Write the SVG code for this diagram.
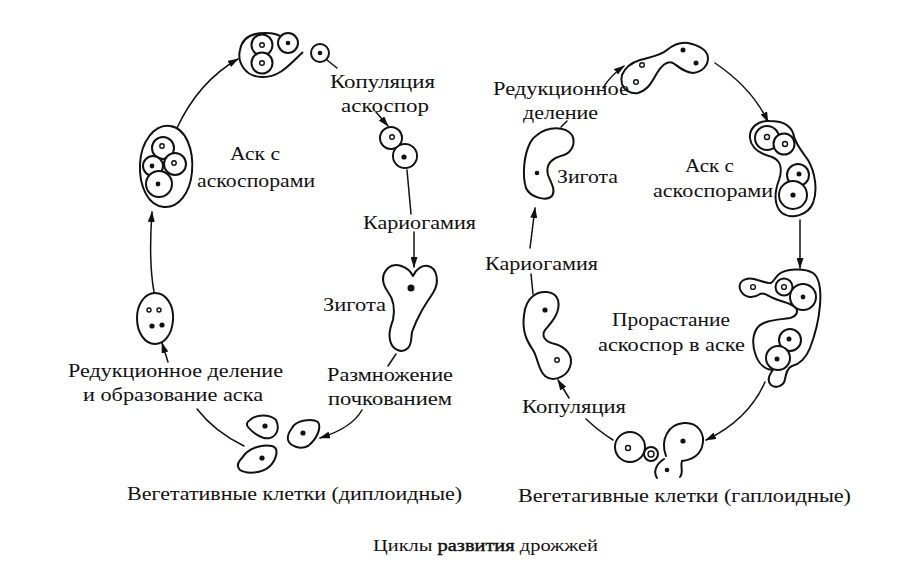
<svg xmlns="http://www.w3.org/2000/svg" width="910" height="583" viewBox="0 0 910 583">
<style>
.o{fill:#fff;stroke:#111;stroke-width:2;stroke-linejoin:round}
.w{fill:#fff;stroke:none}
.n{fill:#fff;stroke:#111;stroke-width:1.4}
.f{fill:#111;stroke:none}
.c{fill:none;stroke:#111;stroke-width:1.5;stroke-linecap:round}
.a{marker-end:url(#ah)}
text{font-family:"Liberation Serif","Times New Roman",serif;font-size:19px;fill:#111}
.cap{font-size:17.5px}
.b{stroke:#111;stroke-width:0.45}
</style>
<defs>
<marker id="ah" markerUnits="userSpaceOnUse" markerWidth="11" markerHeight="7" refX="10" refY="3.5" orient="auto">
<path d="M0,0 L11,3.5 L0,7 Z" fill="#111"/>
</marker>
</defs>
<rect width="910" height="583" fill="#fff"/>

<g id="connectors">
<path class="c a" d="M177,128 C190,100 210,75 238,59"/>
<path class="c" d="M327,60 L337,68"/>
<path class="c a" d="M376,112 L388,126"/>
<path class="c" d="M407,170 L411,214"/>
<path class="c a" d="M414,232 L414,267"/>
<path class="c" d="M396,354 L388,366"/>
<path class="c a" d="M362,410 Q352,428 320,438"/>
<path class="c" d="M197,409 Q215,432 244,446"/>
<path class="c a" d="M168,362 L162,343"/>
<path class="c a" d="M154,292 C150,270 150,240 152,212"/>

<path class="c a" d="M603,88 Q610,76 624,66"/>
<path class="c" d="M561,127 L567,121"/>
<path class="c a" d="M715,63 C740,80 758,100 768,122"/>
<path class="c a" d="M800,220 L800,268"/>
<path class="c a" d="M765,382 Q748,420 706,440"/>
<path class="c" d="M586,419 Q600,432 613,440"/>
<path class="c a" d="M569,398 L558,380"/>
<path class="c" d="M531,274 L533,294"/>
<path class="c a" d="M530,248 L535,208"/>
</g>

<g id="left-top-ascus">
<path class="o" d="M303,52 C292,62 280,78 262,77 C245,77 237,62 240,50 C242,38 252,33 265,33 C274,33 280,35 283,38"/>
<circle class="o" cx="288" cy="43" r="10"/>
<circle class="o" cx="262" cy="45" r="10.5"/>
<circle class="o" cx="262" cy="63" r="10.5"/>
<circle class="n" cx="262" cy="45" r="2.3"/>
<circle class="f" cx="288" cy="43" r="2.3"/>
<circle class="n" cx="262" cy="63" r="2.3"/>
</g>

<g id="left-free-spore">
<circle class="o" cx="320" cy="53" r="9"/>
<circle class="f" cx="320" cy="53" r="2.3"/>
</g>

<g id="left-copulation">
<circle class="o" cx="391" cy="138" r="11"/>
<circle class="o" cx="405" cy="156" r="12"/>
<circle class="w" cx="391" cy="138" r="9.8"/>
<circle class="w" cx="405" cy="156" r="10.8"/>
<circle class="n" cx="392" cy="137" r="2.3"/>
<circle class="f" cx="404" cy="157" r="2.6"/>
</g>

<g id="left-zygote">
<path class="o" d="M413,276 C408,266 395,262 388,268 C380,276 383,285 388,292 C394,300 395,310 393,320 C391,326 388,332 390,340 C392,350 402,354 408,348 C412,344 411,338 412,332 C418,315 425,305 433,293 C440,282 437,268 428,266 C421,265 416,270 413,276 Z"/>
<circle class="f" cx="411" cy="288" r="3.5"/>
</g>

<g id="left-vegetative">
<path class="o" d="M250,420 C256,414 270,414 276,420 C280,428 277,436 270,438 C262,440 252,432 248,427 C246,424 247,422 250,420 Z"/>
<circle class="f" cx="265" cy="426" r="2.6"/>
<path class="o" d="M292,428 C296,420 312,418 318,422 C322,428 316,440 308,446 C300,450 290,446 288,440 C287,436 289,432 292,428 Z"/>
<circle class="f" cx="303" cy="433" r="2.6"/>
<path class="o" d="M242,458 C248,448 262,444 272,446 C280,448 276,460 270,466 C262,474 246,474 240,470 C236,466 238,462 242,458 Z"/>
<circle class="f" cx="262" cy="458" r="2.6"/>
</g>

<g id="left-oval-ascus">
<path class="o" d="M155,293 C166,293 174,305 173,320 C172,335 164,344 155,344 C145,344 137,333 137,318 C137,304 145,293 155,293 Z"/>
<circle class="n" cx="149" cy="310" r="2"/>
<circle class="n" cx="159" cy="310" r="2"/>
<circle class="f" cx="152" cy="326" r="2.6"/>
<circle class="f" cx="162" cy="325" r="2.6"/>
</g>

<g id="left-ascus-4">
<path class="o" d="M170,126 C186,128 194,150 192,172 C190,194 178,208 164,207 C148,206 139,186 140,164 C141,142 154,124 170,126 Z"/>
<circle class="o" cx="163" cy="148" r="11"/>
<circle class="o" cx="153" cy="166" r="10"/>
<circle class="o" cx="175" cy="164" r="11"/>
<circle class="o" cx="159" cy="184" r="13"/>
<circle class="n" cx="162" cy="146" r="2.2"/>
<circle class="f" cx="152" cy="166" r="2.4"/>
<circle class="n" cx="174" cy="163" r="2.2"/>
<circle class="f" cx="158" cy="184" r="2.4"/>
</g>

<g id="right-top-ascus">
<path class="o" d="M622,75 C625,68 630,63 640,60 C650,57 660,56 667,50 C673,45 680,42 688,43 C698,45 708,50 708,58 C708,66 702,72 693,73 C686,73 680,68 673,63 C667,60 662,65 657,73 C652,82 648,90 638,93 C630,94 624,90 622,84 C621,80 621,78 622,75 Z"/>
<circle class="n" cx="642" cy="65" r="2.3"/>
<circle class="n" cx="636" cy="82" r="2.3"/>
<circle class="f" cx="683" cy="50" r="2.5"/>
<circle class="f" cx="696" cy="63" r="2.5"/>
</g>

<g id="right-zygote">
<path class="o" d="M537,135 C548,126 565,126 572,135 C576,143 572,152 564,155 C552,158 545,164 548,175 C551,183 556,190 552,196 C546,202 530,197 526,188 C522,175 524,155 530,143 C532,139 534,137 537,135 Z"/>
<circle class="f" cx="537" cy="173" r="2.3"/>
</g>

<g id="right-ascus">
<path class="o" d="M770,121 C758,120 749,128 750,138 C751,148 760,154 772,157 C780,160 783,168 779,180 C774,193 774,206 782,213 C792,220 808,215 813,203 C818,190 815,172 808,160 C801,150 795,143 793,133 C790,125 782,121 770,121 Z"/>
<circle class="o" cx="767" cy="138" r="12"/>
<circle class="o" cx="784" cy="144" r="10.5"/>
<circle class="o" cx="798" cy="175" r="11"/>
<circle class="o" cx="793" cy="195" r="14"/>
<circle class="n" cx="767" cy="137" r="2.5"/>
<circle class="n" cx="785" cy="144" r="2.5"/>
<circle class="f" cx="799" cy="174" r="2.5"/>
<circle class="f" cx="793" cy="195" r="2.6"/>
</g>

<g id="right-germinating-ascus">
<path class="o" d="M778,275 C785,268 805,268 813,273 C820,278 821,292 820,305 C819,318 815,335 810,348 C806,358 800,364 792,366 C787,368 786,374 785,379 C784,386 776,389 771,385 C767,381 769,375 773,370 C767,370 760,366 756,356 C752,346 752,334 758,327 C764,320 778,320 790,318 C797,316 799,311 795,307 C791,303 782,302 773,298 C768,296 764,292 760,294 C753,299 743,298 740,289 C738,281 746,277 754,279 C762,281 768,284 771,283 C774,281 775,278 778,275 Z"/>
<circle class="o" cx="784" cy="287" r="8.5"/>
<circle class="o" cx="803" cy="297" r="13"/>
<circle class="n" cx="753" cy="287" r="2.4"/>
<circle class="n" cx="784" cy="287" r="2.4"/>
<circle class="f" cx="803" cy="297" r="2.4"/>
<circle class="o" cx="790" cy="340" r="11"/>
<circle class="o" cx="778" cy="358" r="12"/>
<circle class="f" cx="789" cy="339" r="2.5"/>
<circle class="f" cx="777" cy="359" r="2.5"/>
</g>

<g id="right-copulation">
<path class="o" d="M533,296 C540,290 555,290 558,300 C561,312 552,322 545,330 C541,336 545,342 555,344 C566,347 574,356 570,367 C566,378 552,382 545,376 C538,370 538,358 533,350 C526,340 522,330 524,315 C525,305 528,300 533,296 Z"/>
<circle class="f" cx="545" cy="310" r="2.6"/>
<circle class="n" cx="557" cy="360" r="2.3"/>
</g>

<g id="right-vegetative">
<circle class="o" cx="630" cy="447" r="15"/>
<circle class="n" cx="628" cy="448" r="2.5"/>
<circle class="o" cx="651" cy="454" r="7"/>
<circle class="n" cx="651" cy="454" r="3"/>
<path class="c" style="stroke-width:2" d="M666,456 C660,440 668,424 684,423 C698,422 706,434 702,447 C699,456 690,460 682,461 C680,466 684,472 680,477"/>
<path class="c" style="stroke-width:2" d="M664,459 C656,464 653,472 657,478"/>
<circle class="f" cx="683" cy="441" r="2.6"/>
<circle class="f" cx="667" cy="470" r="2.3"/>
</g>

<g id="labels">
<text x="330" y="88" textLength="105" lengthAdjust="spacingAndGlyphs">Копуляция</text>
<text x="341" y="112" textLength="88" lengthAdjust="spacingAndGlyphs">аскоспор</text>
<text x="230" y="160" textLength="50" lengthAdjust="spacingAndGlyphs">Аск с</text>
<text x="197" y="187" textLength="118" lengthAdjust="spacingAndGlyphs">аскоспорами</text>
<text x="363" y="229" textLength="113" lengthAdjust="spacingAndGlyphs">Кариогамия</text>
<text x="323" y="311" textLength="63" lengthAdjust="spacingAndGlyphs">Зигота</text>
<text x="68" y="377" textLength="215" lengthAdjust="spacingAndGlyphs">Редукционное деление</text>
<text x="83" y="401" textLength="180" lengthAdjust="spacingAndGlyphs">и образование аска</text>
<text x="327" y="381" textLength="126" lengthAdjust="spacingAndGlyphs">Размножение</text>
<text x="328" y="405" textLength="124" lengthAdjust="spacingAndGlyphs">почкованием</text>
<text x="127" y="500" textLength="335" lengthAdjust="spacingAndGlyphs">Вегетативные клетки (диплоидные)</text>

<text x="493" y="95" textLength="136" lengthAdjust="spacingAndGlyphs">Редукционное</text>
<text x="523" y="119" textLength="75" lengthAdjust="spacingAndGlyphs">деление</text>
<text x="557" y="183" textLength="61" lengthAdjust="spacingAndGlyphs">Зигота</text>
<text x="685" y="172" textLength="49" lengthAdjust="spacingAndGlyphs">Аск с</text>
<text x="653" y="197" textLength="120" lengthAdjust="spacingAndGlyphs">аскоспорами</text>
<text x="485" y="270" textLength="113" lengthAdjust="spacingAndGlyphs">Кариогамия</text>
<text x="612" y="326" textLength="118" lengthAdjust="spacingAndGlyphs">Прорастание</text>
<text x="598" y="351" textLength="147" lengthAdjust="spacingAndGlyphs">аскоспор в аске</text>
<text x="522" y="413" textLength="104" lengthAdjust="spacingAndGlyphs">Копуляция</text>
<text x="518" y="502" textLength="333" lengthAdjust="spacingAndGlyphs">Вегетагивные клетки (гаплоидные)</text>

<text class="cap" x="373" y="551" textLength="225" lengthAdjust="spacingAndGlyphs">Циклы <tspan class="b">развития</tspan> дрожжей</text>
</g>
</svg>
